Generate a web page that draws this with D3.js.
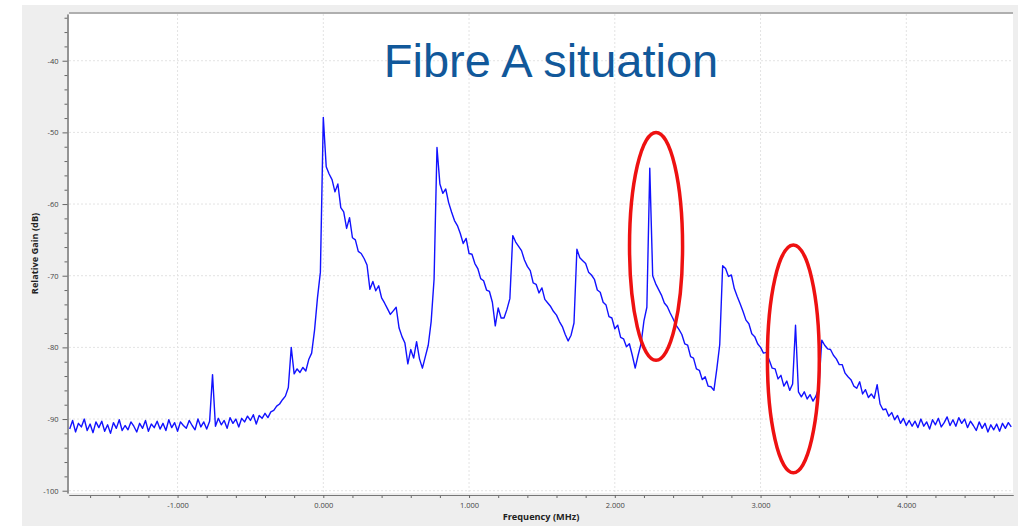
<!DOCTYPE html>
<html>
<head>
<meta charset="utf-8">
<script src="https://cdn.jsdelivr.net/npm/d3@7"></script>
<style>
  body { margin: 0; background: #fff; }
  svg { display: block; }
  .tick text { font-family: "Open Sans", sans-serif; font-size: 7.5px; fill: #444; }
  .tick line { stroke: #666; }
  .domain { stroke: #777; }
  .axis-title { font-family: "Open Sans", sans-serif; font-size: 9.2px; font-weight: bold; fill: #222; }
</style>
</head>
<body>
<div id="chart"></div>
<script>
// Spectrum bins: first bin frequency and bin width (MHz)
const freqStart = -1.74;
const freqStep = 0.02;

// Relative gain per bin (dB), one row per 0.2 MHz
const gainDb = [
  -91.4, -90.2, -91.8, -90.6, -91.1, -90.0, -91.6, -90.7, -91.9, -90.4,
  -91.2, -90.3, -91.7, -90.8, -92.0, -90.5, -91.3, -90.1, -91.6, -90.9,
  -91.5, -90.4, -91.0, -91.8, -90.6, -91.3, -90.2, -91.7, -90.7, -91.2,
  -90.3, -91.4, -90.6, -91.6, -90.1, -91.2, -90.5, -91.7, -90.4, -90.9,
  -91.3, -90.2, -90.9, -91.5, -90.0, -91.1, -90.4, -91.4, -90.3, -83.8,
  -91.0, -89.9, -90.8, -90.2, -91.3, -89.8, -90.6, -90.0, -91.1, -89.9,
  -90.4, -89.6, -90.2, -89.4, -90.7, -89.5, -89.9, -89.2, -89.8, -89.0,
  -88.8, -88.2, -87.9, -87.3, -86.8, -85.6, -80.0, -83.7, -83.0, -83.5,
  -82.8, -83.3, -81.7, -80.8, -77.6, -73.1, -69.5, -47.9, -54.8, -55.8,
  -56.6, -58.3, -57.2, -60.5, -61.1, -63.4, -61.9, -64.7, -65.0, -66.6,
  -66.9, -67.6, -68.5, -71.9, -70.8, -72.1, -71.4, -73.1, -73.8, -74.6,
  -75.4, -74.9, -74.4, -77.3, -78.5, -79.4, -82.3, -80.3, -81.5, -79.2,
  -81.6, -82.9, -81.3, -79.7, -76.4, -70.5, -52.1, -57.2, -58.5, -57.9,
  -59.8, -61.1, -62.3, -63.0, -64.1, -65.5, -64.8, -66.9, -67.0, -68.3,
  -69.0, -70.4, -70.7, -72.0, -72.2, -73.7, -77.0, -74.5, -75.9, -75.9,
  -74.7, -73.2, -64.4, -65.3, -65.9, -66.5, -67.8, -68.7, -69.3, -71.0,
  -71.2, -72.4, -71.7, -73.3, -73.8, -74.3, -75.0, -75.5, -76.4, -77.1,
  -78.2, -79.1, -78.3, -76.6, -66.3, -67.5, -67.9, -68.3, -69.5, -69.9,
  -70.5, -72.0, -72.3, -73.7, -74.1, -75.7, -75.9, -77.4, -76.9, -78.6,
  -78.8, -79.9, -79.5, -81.1, -82.9, -81.1, -79.5, -76.3, -74.4, -55.0,
  -70.0, -71.1, -71.9, -72.7, -73.8, -74.3, -75.2, -76.0, -76.9, -77.5,
  -78.2, -79.5, -79.7, -81.3, -81.5, -83.0, -83.2, -84.5, -84.1, -85.4,
  -85.5, -86.0, -83.0, -79.6, -68.6, -69.0, -70.1, -69.9, -71.8, -72.9,
  -73.9, -75.0, -76.2, -76.7, -78.1, -78.5, -79.5, -80.0, -80.8, -80.7,
  -81.8, -82.9, -83.0, -84.4, -83.9, -85.4, -84.7, -86.0, -85.1, -76.9,
  -86.2, -86.9, -86.2, -87.2, -86.6, -87.5, -86.8, -85.6, -79.0, -79.7,
  -80.2, -80.3, -81.1, -81.6, -82.4, -82.4, -83.6, -84.1, -84.5, -85.4,
  -85.7, -84.8, -86.5, -85.9, -87.0, -86.5, -87.1, -85.2, -87.9, -88.7,
  -88.6, -89.6, -89.1, -90.1, -89.5, -90.6, -89.9, -90.9, -90.2, -91.0,
  -90.3, -91.2, -90.0, -91.0, -90.4, -91.4, -90.1, -90.8, -89.9, -91.1,
  -90.5, -89.7, -90.9, -90.1, -91.0, -89.8, -90.6, -90.0, -91.2, -90.3,
  -90.9, -91.6, -90.4, -91.3, -90.6, -91.8, -90.8, -91.5, -90.7, -91.7,
  -90.6, -91.3, -90.5, -91.1
];

// Axis ticks
const xMajorTicks = [-1, 0, 1, 2, 3, 4];
const xMinorTicks = [-1.6, -1.4, -1.2, -0.8, -0.6, -0.4, -0.2, 0.2, 0.4, 0.6, 0.8,
                     1.2, 1.4, 1.6, 1.8, 2.2, 2.4, 2.6, 2.8, 3.2, 3.4, 3.6, 3.8,
                     4.2, 4.4, 4.6];
const yMajorTicks = [-40, -50, -60, -70, -80, -90, -100];
const yMinorTicks = [-34, -36, -38, -42, -44, -46, -48, -52, -54, -56, -58,
                     -62, -64, -66, -68, -72, -74, -76, -78, -82, -84, -86, -88,
                     -92, -94, -96, -98];

// Red callout ellipses (centre in MHz / dB, radii in MHz / dB)
const calloutFreq = [2.283, 3.225];
const calloutGain = [-65.9, -81.6];
const calloutRx = [0.182, 0.178];
const calloutRy = [15.9, 15.9];

const titleText = "Fibre A situation";

const W = 1025, H = 526;
const plot = {left: 69, right: 1013, top: 14, bottom: 493};

const svg = d3.select("#chart")
  .append("svg")
  .attr("width", W)
  .attr("height", H);

// grey window background + white plot canvas
svg.append("rect").attr("x", 22).attr("y", 5).attr("width", 996).attr("height", 521).attr("fill", "#eeeeee");
svg.append("rect")
  .attr("x", plot.left).attr("y", plot.top)
  .attr("width", plot.right - plot.left).attr("height", plot.bottom - plot.top)
  .attr("fill", "#fff");
svg.append("line")
  .attr("x1", plot.left).attr("x2", plot.right).attr("y1", 13).attr("y2", 13)
  .attr("stroke", "#9a9a9a").attr("stroke-width", 1.5);

// Scales
const x = d3.scaleLinear()
  .domain([-1.7448, 4.7321])
  .range([plot.left, plot.right]);

const y = d3.scaleLinear()
  .domain([-100.32, -33.48])
  .range([plot.bottom, plot.top]);

// Grid
svg.append("g").selectAll("line")
  .data(xMajorTicks)
  .join("line")
  .attr("x1", d => x(d)).attr("x2", d => x(d))
  .attr("y1", plot.top).attr("y2", plot.bottom)
  .attr("stroke", "#e3e3e3").attr("stroke-dasharray", "2,2");

svg.append("g").selectAll("line")
  .data(yMajorTicks)
  .join("line")
  .attr("x1", plot.left).attr("x2", plot.right)
  .attr("y1", d => y(d)).attr("y2", d => y(d))
  .attr("stroke", "#e3e3e3").attr("stroke-dasharray", "2,2");

// X axis
svg.append("g")
  .attr("transform", `translate(0,${plot.bottom + 2})`)
  .call(d3.axisBottom(x).tickValues(xMinorTicks).tickSize(3).tickSizeOuter(0).tickFormat(""));

svg.append("g")
  .attr("transform", `translate(0,${plot.bottom + 2})`)
  .call(d3.axisBottom(x).tickValues(xMajorTicks).tickSize(3).tickPadding(5).tickSizeOuter(0)
        .tickFormat(d3.format(".3f")));

// Y axis
svg.append("g")
  .attr("transform", `translate(${plot.left - 1.5},0)`)
  .call(d3.axisLeft(y).tickValues(yMinorTicks).tickSize(3).tickSizeOuter(0).tickFormat(""));

svg.append("g")
  .attr("transform", `translate(${plot.left - 1.5},0)`)
  .call(d3.axisLeft(y).tickValues(yMajorTicks).tickSize(5).tickPadding(4).tickSizeOuter(0)
        .tickFormat(d3.format("d")));

svg.selectAll(".tick text").text(function () { return this.textContent.replace("\u2212", "-"); });

// Axis titles
svg.append("text")
  .attr("class", "axis-title")
  .attr("x", (plot.left + plot.right) / 2)
  .attr("y", 520)
  .attr("text-anchor", "middle")
  .text("Frequency (MHz)");

svg.append("text")
  .attr("class", "axis-title")
  .attr("transform", `translate(38,${(plot.top + plot.bottom) / 2}) rotate(-90)`)
  .attr("text-anchor", "middle")
  .text("Relative Gain (dB)");

// Spectrum trace
const spectrum = gainDb.map((g, i) => ({f: freqStart + i * freqStep, g: g}));

svg.append("path")
  .datum(spectrum)
  .attr("fill", "none")
  .attr("stroke", "#1212ff")
  .attr("stroke-width", 1.4)
  .attr("stroke-linejoin", "round")
  .attr("d", d3.line().x(d => x(d.f)).y(d => y(d.g)));

// Callouts
svg.append("g").selectAll("ellipse")
  .data(calloutFreq.map((f, i) => ({f: f, g: calloutGain[i], rx: calloutRx[i], ry: calloutRy[i]})))
  .join("ellipse")
  .attr("cx", d => x(d.f))
  .attr("cy", d => y(d.g))
  .attr("rx", d => x(d.f + d.rx) - x(d.f))
  .attr("ry", d => y(d.g - d.ry) - y(d.g))
  .attr("fill", "none")
  .attr("stroke", "#ee1111")
  .attr("stroke-width", 3.5);

// Title
svg.append("text")
  .attr("x", 551)
  .attr("y", 77)
  .attr("text-anchor", "middle")
  .attr("font-family", "'Liberation Sans', Arial, sans-serif")
  .attr("font-size", 47)
  .attr("fill", "#11589a")
  .text(titleText);
</script>
</body>
</html>
